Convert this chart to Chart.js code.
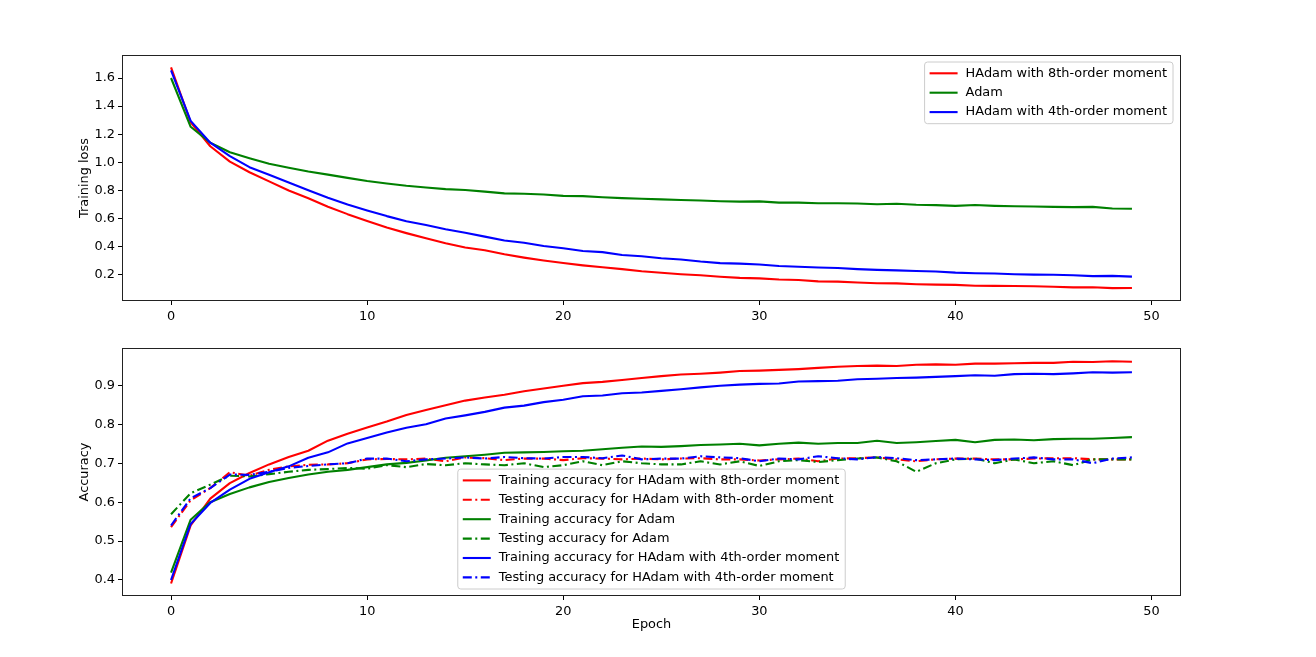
<!DOCTYPE html>
<html>
<head>
<meta charset="utf-8">
<script src="https://cdn.jsdelivr.net/npm/chart.js@4.4.0/dist/chart.umd.min.js"></script>
<style>
    html, body { margin: 0; padding: 0; background: #fff; }
    #wrap { position: relative; width: 1316px; height: 657px; }
    .pane { position: absolute; left: 0; width: 1316px; }
    #top { top: 0; height: 330px; }
    #bottom { top: 330px; height: 327px; }
</style>
</head>
<body>
<div id="wrap">
    <div class="pane" id="top"><canvas id="lossChart"></canvas></div>
    <div class="pane" id="bottom"><canvas id="accChart"></canvas></div>
</div>
<script>
// Epochs and tick labels
const epochs = [0, 1, 2, 3, 4, 5, 6, 7, 8, 9, 10, 11, 12, 13, 14, 15, 16, 17, 18, 19,
    20, 21, 22, 23, 24, 25, 26, 27, 28, 29, 30, 31, 32, 33, 34, 35, 36, 37, 38, 39,
    40, 41, 42, 43, 44, 45, 46, 47, 48, 49];
const xTicks = [0, 10, 20, 30, 40, 50];
const lossTicks = [0.2, 0.4, 0.6, 0.8, 1.0, 1.2, 1.4, 1.6];
const accTicks = [0.4, 0.5, 0.6, 0.7, 0.8, 0.9];

// Training loss
const lossHAdam8 = [1.675, 1.285, 1.115, 1.005, 0.93, 0.865, 0.80, 0.745, 0.685, 0.632,
    0.583, 0.537, 0.497, 0.46, 0.425, 0.395, 0.375, 0.347, 0.323, 0.302,
    0.284, 0.268, 0.254, 0.241, 0.226, 0.215, 0.205, 0.198, 0.187, 0.179,
    0.175, 0.167, 0.164, 0.154, 0.152, 0.146, 0.141, 0.140, 0.134, 0.131,
    0.129, 0.123, 0.122, 0.121, 0.119, 0.116, 0.111, 0.112, 0.106, 0.107];
const lossAdam = [1.60, 1.253, 1.14, 1.072, 1.03, 0.99, 0.962, 0.935, 0.913, 0.89,
    0.868, 0.85, 0.834, 0.822, 0.81, 0.804, 0.792, 0.78, 0.777, 0.772,
    0.762, 0.76, 0.752, 0.746, 0.741, 0.737, 0.733, 0.729, 0.724, 0.721,
    0.723, 0.714, 0.714, 0.709, 0.709, 0.708, 0.702, 0.706, 0.699, 0.696,
    0.691, 0.697, 0.691, 0.688, 0.686, 0.684, 0.682, 0.684, 0.672, 0.670];
const lossHAdam4 = [1.655, 1.295, 1.14, 1.045, 0.966, 0.912, 0.857, 0.802, 0.748, 0.70,
    0.658, 0.618, 0.582, 0.555, 0.525, 0.50, 0.472, 0.445, 0.428, 0.405,
    0.39, 0.37, 0.362, 0.342, 0.333, 0.318, 0.31, 0.295, 0.284, 0.28,
    0.274, 0.263, 0.258, 0.253, 0.249, 0.241, 0.236, 0.232, 0.228, 0.224,
    0.216, 0.212, 0.210, 0.205, 0.202, 0.201, 0.197, 0.191, 0.193, 0.188];

// Accuracy
const trainHAdam8 = [0.391, 0.54, 0.609, 0.649, 0.675, 0.697, 0.716, 0.732, 0.758, 0.776,
    0.792, 0.807, 0.824, 0.837, 0.849, 0.861, 0.869, 0.876, 0.885, 0.892,
    0.899, 0.906, 0.909, 0.914, 0.919, 0.924, 0.928, 0.93, 0.933, 0.937,
    0.938, 0.94, 0.942, 0.945, 0.948, 0.95, 0.951, 0.95, 0.953, 0.954,
    0.953, 0.956, 0.956, 0.957, 0.958, 0.958, 0.961, 0.960, 0.962, 0.961];
const testHAdam8 = [0.536, 0.605, 0.636, 0.677, 0.668, 0.683, 0.692, 0.696, 0.697, 0.70,
    0.71, 0.711, 0.71, 0.712, 0.705, 0.715, 0.713, 0.708, 0.712, 0.712,
    0.708, 0.713, 0.712, 0.71, 0.712, 0.71, 0.712, 0.713, 0.71, 0.71,
    0.707, 0.71, 0.712, 0.705, 0.712, 0.713, 0.715, 0.71, 0.705, 0.71,
    0.712, 0.712, 0.71, 0.71, 0.712, 0.713, 0.713, 0.71, 0.71, 0.71];
const trainAdam = [0.419, 0.555, 0.60, 0.621, 0.638, 0.652, 0.662, 0.671, 0.678, 0.683,
    0.69, 0.697, 0.701, 0.707, 0.714, 0.718, 0.722, 0.727, 0.728, 0.729,
    0.731, 0.732, 0.736, 0.74, 0.743, 0.742, 0.744, 0.747, 0.748, 0.75,
    0.746, 0.75, 0.753, 0.75, 0.752, 0.752, 0.758, 0.752, 0.754, 0.757,
    0.76, 0.754, 0.76, 0.761, 0.759, 0.762, 0.763, 0.763, 0.765, 0.767];
const testAdam = [0.569, 0.623, 0.645, 0.668, 0.666, 0.672, 0.678, 0.683, 0.685, 0.688,
    0.686, 0.695, 0.69, 0.698, 0.695, 0.70, 0.697, 0.695, 0.70, 0.69,
    0.695, 0.705, 0.695, 0.705, 0.70, 0.697, 0.697, 0.705, 0.697, 0.705,
    0.693, 0.705, 0.708, 0.703, 0.708, 0.712, 0.715, 0.705, 0.678, 0.70,
    0.71, 0.712, 0.70, 0.71, 0.70, 0.705, 0.695, 0.71, 0.71, 0.71];
const trainHAdam4 = [0.40, 0.544, 0.598, 0.632, 0.66, 0.677, 0.692, 0.714, 0.728, 0.751,
    0.765, 0.779, 0.791, 0.800, 0.815, 0.823, 0.832, 0.843, 0.848, 0.857,
    0.863, 0.872, 0.874, 0.88, 0.882, 0.886, 0.89, 0.895, 0.899, 0.902,
    0.904, 0.905, 0.91, 0.911, 0.912, 0.916, 0.917, 0.919, 0.92, 0.922,
    0.924, 0.926, 0.925, 0.929, 0.93, 0.929, 0.931, 0.934, 0.933, 0.934];
const testHAdam4 = [0.54, 0.61, 0.636, 0.671, 0.67, 0.678, 0.688, 0.693, 0.697, 0.70,
    0.712, 0.712, 0.705, 0.71, 0.712, 0.715, 0.712, 0.716, 0.713, 0.712,
    0.716, 0.716, 0.713, 0.72, 0.71, 0.712, 0.712, 0.718, 0.715, 0.713,
    0.705, 0.712, 0.71, 0.718, 0.713, 0.71, 0.716, 0.713, 0.708, 0.71,
    0.712, 0.71, 0.708, 0.712, 0.715, 0.71, 0.71, 0.70, 0.712, 0.715];

const RED = '#ff0000', GREEN = '#008000', BLUE = '#0000ff';
const dashDot = [9, 3.5, 2, 3.5];
const fontSize = 12.9;
const tickFont = { family: '"DejaVu Sans", sans-serif', size: fontSize };

function series(label, values, color, dashed, index) {
    return {
        label: label,
        data: values.map((v, i) => ({ x: epochs[i], y: v })),
        borderColor: color,
        backgroundColor: color,
        borderWidth: 2.1,
        borderDash: dashed ? dashDot : [],
        borderJoinStyle: 'round',
        pointRadius: 0,
        tension: 0,
        fill: false,
        order: -index   // later series on top, like matplotlib
    };
}

// Frame around the plot area (matplotlib spines)
const framePlugin = {
    id: 'axesFrame',
    afterDatasetsDraw(chart) {
        const { ctx, chartArea: a } = chart;
        ctx.save();
        ctx.strokeStyle = '#222';
        ctx.lineWidth = 1;
        ctx.strokeRect(Math.round(a.left) - 0.5, Math.round(a.top) - 0.5,
            Math.round(a.right - a.left) + 1, Math.round(a.bottom - a.top) + 1);
        ctx.restore();
    }
};

// Legend box inside the axes
const boxLegend = {
    id: 'boxLegend',
    afterDraw(chart, args, opts) {
        const { ctx, chartArea: a } = chart;
        const sets = chart.data.datasets;
        ctx.save();
        ctx.font = fontSize + 'px "DejaVu Sans", sans-serif';
        const textW = Math.max(...sets.map(d => ctx.measureText(d.label).width));
        const w = 5 + 28 + 8 + textW + 6;
        const rowH = 19.4;
        const h = sets.length * rowH + 3.5;
        let x, y;
        if (opts.loc === 'upper right') {
            x = a.right - 7 - w;
            y = a.top + 6;
        } else {
            x = (a.left + a.right) / 2 - w / 2;
            y = a.bottom - 6 - h;
        }
        ctx.beginPath();
        ctx.roundRect(x, y, w, h, 3);
        ctx.fillStyle = 'rgba(255,255,255,0.8)';
        ctx.fill();
        ctx.strokeStyle = '#cccccc';
        ctx.lineWidth = 1;
        ctx.stroke();

        sets.forEach((d, i) => {
            const cy = y + 11.3 + i * rowH;
            ctx.beginPath();
            ctx.strokeStyle = d.borderColor;
            ctx.lineWidth = d.borderWidth;
            ctx.setLineDash(d.borderDash);
            ctx.moveTo(x + 5, cy);
            ctx.lineTo(x + 33, cy);
            ctx.stroke();
            ctx.setLineDash([]);
            ctx.fillStyle = '#000';
            ctx.textBaseline = 'middle';
            ctx.textAlign = 'left';
            ctx.fillText(d.label, x + 41, cy);
        });
        ctx.restore();
    }
};

const tickGrid = { display: true, drawOnChartArea: false, drawTicks: true, tickLength: 5, color: '#000', lineWidth: 1 };

function xScale(title) {
    return {
        type: 'linear',
        min: -2.45,
        max: 51.45,
        afterBuildTicks: axis => { axis.ticks = xTicks.map(v => ({ value: v })); },
        afterFit: axis => { axis.height = title ? 37 : 30; },
        grid: tickGrid,
        border: { display: false },
        ticks: { color: '#000', font: tickFont, padding: 4, maxRotation: 0, autoSkip: false, callback: v => String(v) },
        title: title
            ? { display: true, text: title, color: '#000', font: tickFont, padding: { top: 0, bottom: 0 } }
            : { display: false }
    };
}

function yScale(min, max, ticks, title) {
    return {
        type: 'linear',
        min: min,
        max: max,
        afterBuildTicks: axis => { axis.ticks = ticks.map(v => ({ value: v })); },
        afterFit: axis => { axis.width = 46; },
        grid: tickGrid,
        border: { display: false },
        ticks: { color: '#000', font: tickFont, padding: 3, autoSkip: false, callback: v => v.toFixed(1) },
        title: { display: true, text: title, color: '#000', font: tickFont, padding: { top: 0, bottom: 0 } }
    };
}

function baseOptions(layoutPadding, x, y, legendLoc) {
    return {
        responsive: true,
        maintainAspectRatio: false,
        animation: false,
        layout: { padding: layoutPadding },
        plugins: {
            legend: { display: false },
            tooltip: { enabled: false },
            boxLegend: { loc: legendLoc }
        },
        scales: { x: x, y: y }
    };
}

new Chart(document.getElementById('lossChart'), {
    type: 'line',
    data: {
        datasets: [
            series('HAdam with 8th-order moment', lossHAdam8, RED, false, 0),
            series('Adam', lossAdam, GREEN, false, 1),
            series('HAdam with 4th-order moment', lossHAdam4, BLUE, false, 2)
        ]
    },
    options: baseOptions({ left: 77, top: 56, right: 136, bottom: 0 },
        xScale(null), yScale(0.0215, 1.7565, lossTicks, 'Training loss'), 'upper right'),
    plugins: [framePlugin, boxLegend]
});

new Chart(document.getElementById('accChart'), {
    type: 'line',
    data: {
        datasets: [
            series('Training accuracy for HAdam with 8th-order moment', trainHAdam8, RED, false, 0),
            series('Testing accuracy for HAdam with 8th-order moment', testHAdam8, RED, true, 1),
            series('Training accuracy for Adam', trainAdam, GREEN, false, 2),
            series('Testing accuracy for Adam', testAdam, GREEN, true, 3),
            series('Training accuracy for HAdam with 4th-order moment', trainHAdam4, BLUE, false, 4),
            series('Testing accuracy for HAdam with 4th-order moment', testHAdam4, BLUE, true, 5)
        ]
    },
    options: baseOptions({ left: 77, top: 19, right: 136, bottom: 25 },
        xScale('Epoch'), yScale(0.3614, 0.9936, accTicks, 'Accuracy'), 'lower center'),
    plugins: [framePlugin, boxLegend]
});
</script>
</body>
</html>
